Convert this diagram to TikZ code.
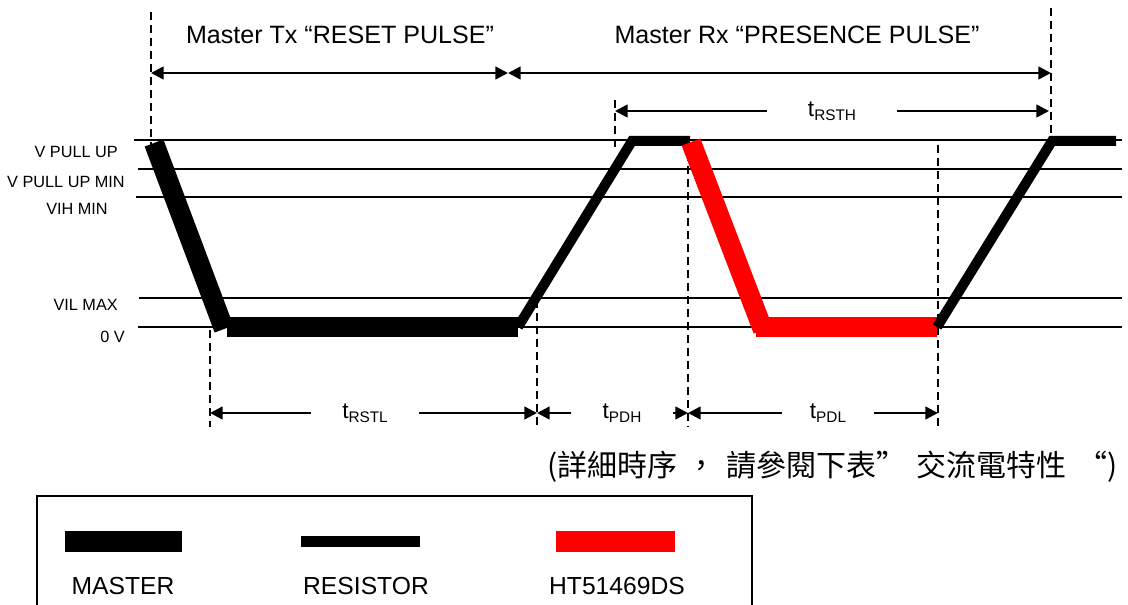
\documentclass[tikz,border=0pt]{standalone}
\usepackage{fontspec}
\setmainfont{Liberation Sans}
\newfontfamily\cjkfont{Noto Sans CJK TC}
\usepackage{tikz}
\usetikzlibrary{arrows.meta, positioning, calc}
\usepackage{xcolor}
\definecolor{htred}{RGB}{255,0,0}

\newcommand{\tname}[1]{{\fontsize{17}{17}\selectfont t}\raisebox{-3pt}{\fontsize{11.5}{12}\selectfont #1}}

\tikzset{
  level/.style={line width=1.5pt},
  guide/.style={line width=1.1pt, dash pattern=on 6pt off 3.75pt},
  span/.style={line width=1.8pt, {Triangle[length=9.5pt,width=9.5pt]}-{Triangle[length=9.5pt,width=9.5pt]}},
  onetip/.style={line width=1.8pt, -{Triangle[length=9.5pt,width=9.5pt]}},
  levellabel/.style={anchor=east, inner sep=0pt, font=\fontsize{12.2}{13}\selectfont},
  title/.style={inner sep=0pt, font=\fontsize{18.8}{22}\selectfont},
  tlab/.style={inner sep=0pt, minimum height=18pt},
  master/.style={line width=15pt, line cap=butt},
  resistor/.style={line width=7.5pt, line cap=butt, line join=miter},
  device/.style={line width=15pt, line cap=butt, draw=htred},
  legendtext/.style={inner sep=0pt, font=\fontsize{18.5}{22}\selectfont}
}

\begin{document}
\begin{tikzpicture}[x=0.75pt, y=-0.75pt]
  \useasboundingbox (0,0) rectangle (1128,605);

  % voltage levels and their names
  \foreach \yy/\xs/\ly/\lx/\lab in {140/134/152/118/V PULL UP, 169/138/182/125/V PULL UP MIN,
      197/136/209/108/VIH MIN, 298/139/305/118/VIL MAX, 327/138/337/125/0 V} {
    \draw[level] (\xs,\yy) -- (1122,\yy);
    \node[levellabel] (lab\yy) at (\lx,\ly) {\lab};
  }

  % dashed guides
  \draw[guide] (151,12) -- (151,145);
  \draw[guide] (210,330) -- (210,427);
  \draw[guide] (537,300) -- (537,427);
  \draw[guide] (615,100) -- (615,150);
  \draw[guide] (688,140) -- (688,427);
  \draw[guide] (938,145) -- (938,427);
  \draw[guide] (1051,8) -- (1051,150);

  % waveform
  \draw[master] (154,143) -- (224,329);
  \fill (227,317) rectangle (518,337);
  \draw[resistor] (518,327) -- (632,141) -- (690,141);
  \draw[device] (691,142) -- (763,330);
  \fill[htred] (756,317) rectangle (937,337);
  \draw[resistor] (937,327) -- (1052,141) -- (1116,141);

  % pulse names
  \node[title] (txtitle) at (340,35) {Master Tx “RESET PULSE”};
  \node[title] (rxtitle) at (797,35) {Master Rx “PRESENCE PULSE”};
  \coordinate (txL) at (151,73);
  \coordinate (txR) at (508,73);
  \coordinate (rxR) at (1051,73);
  \draw[span] (txL) -- (txR);
  \draw[span] (txR) -- (rxR);

  % timing spans
  \node[tlab, minimum width=97pt] (rsth) at (832,111) {\tname{RSTH}};
  \coordinate (rsthL) at (615,111);
  \coordinate (rsthR) at (1049,111);
  \draw[onetip] (rsth) -- (rsthL);
  \draw[onetip] (rsth) -- (rsthR);

  \node[tlab, minimum width=81pt] (rstl) at (365,413) {\tname{RSTL}};
  \node[tlab, minimum width=76.5pt] (pdh) at (622,413) {\tname{PDH}};
  \node[tlab, minimum width=69pt] (pdl) at (828,413) {\tname{PDL}};
  \coordinate (rstlL) at (210,413);
  \coordinate (pdhL) at (537,413);
  \coordinate (pdlL) at (688,413);
  \coordinate (pdlR) at (938,413);
  \draw[onetip] (rstl) -- (rstlL);
  \draw[onetip] (rstl) -- (pdhL);
  \draw[onetip] (pdh) -- (pdhL);
  \draw[onetip] (pdh) -- (pdlL);
  \draw[onetip] (pdl) -- (pdlL);
  \draw[onetip] (pdl) -- (pdlR);

  \node[anchor=east, inner sep=0pt, font=\cjkfont\fontsize{22.5}{24}\selectfont] (acnote) at (1118,467)
    {(詳細時序\hspace{7pt}，\hspace{7pt}請參閱下表”\hspace{8pt}交流電特性\hspace{8pt}“)};

  % legend
  \draw[level] (37,605) -- (37,496) -- (752,496) -- (752,605);
  \fill (65,531) rectangle (182,552);
  \fill (301,536) rectangle (420,547);
  \fill[htred] (556,531) rectangle (675,552);
  \node[legendtext] (lgmaster) at (123,586) {MASTER};
  \node[legendtext] (lgres) at (366,586) {RESISTOR};
  \node[legendtext] (lgdev) at (617,586) {HT51469DS};
\end{tikzpicture}
\end{document}
